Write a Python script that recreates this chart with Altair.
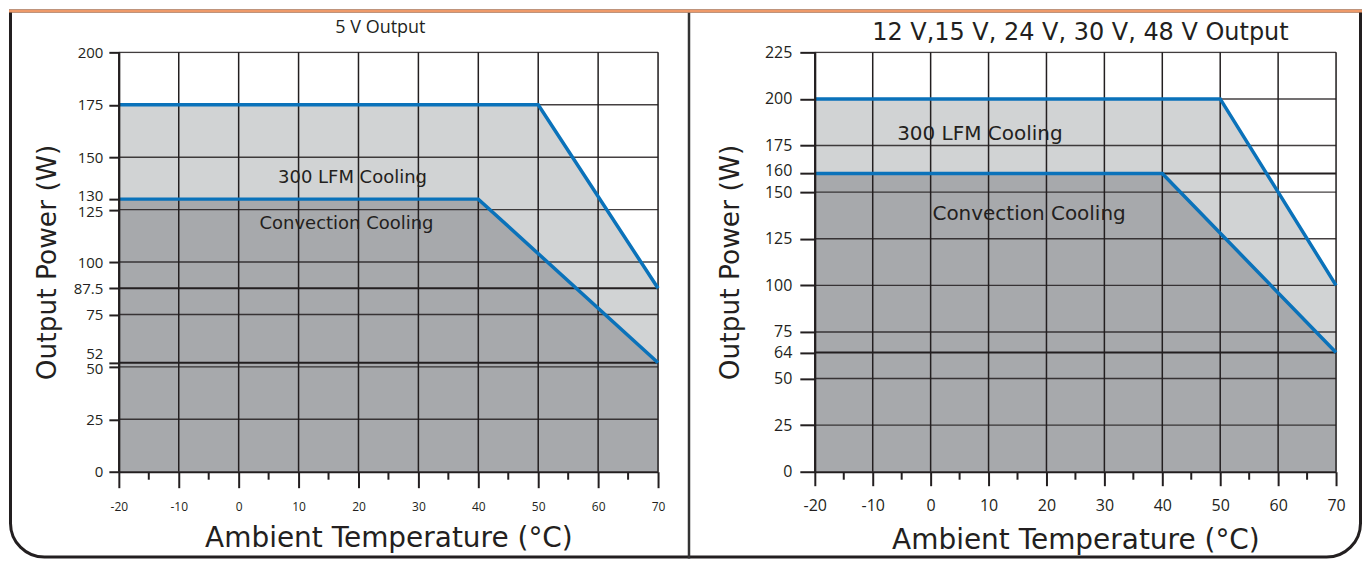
import altair as alt
import pandas as pd

# ---------------- data ----------------
titles = ["5 V Output", "12 V,15 V, 24 V, 30 V, 48 V Output"]

# Left panel: 5 V output
temp_300lfm_5v = [-20, 50, 70]
power_300lfm_5v = [175, 175, 87.5]
temp_conv_5v = [-20, 40, 70]
power_conv_5v = [130, 130, 52]
yticks_5v = [0, 25, 50, 52, 75, 87.5, 100, 125, 130, 150, 175, 200]
hgrid_5v = [25, 50, 75, 100, 125, 150, 175, 200]
marked_5v = [52, 87.5]
labels_5v = ["300 LFM Cooling", "Convection Cooling"]
label_temp_5v = [19, 18]
label_power_5v = [140, 118]

# Right panel: 12 V .. 48 V output
temp_300lfm_hv = [-20, 50, 70]
power_300lfm_hv = [200, 200, 100]
temp_conv_hv = [-20, 40, 70]
power_conv_hv = [160, 160, 64]
yticks_hv = [0, 25, 50, 64, 75, 100, 125, 150, 160, 175, 200, 225]
hgrid_hv = [25, 50, 75, 100, 125, 150, 175, 200, 225]
marked_hv = [64, 160]
labels_hv = ["300 LFM Cooling", "Convection Cooling"]
label_temp_hv = [8.5, 17]
label_power_hv = [181, 138]

xticks = [-20, -10, 0, 10, 20, 30, 40, 50, 60, 70]
xminor = [-15, -5, 5, 15, 25, 35, 45, 55, 65]

LIGHT = "#D1D3D4"
DARK = "#A7A9AC"
BLUE = "#0A72BA"
INK = "#231F20"
H = 420


def panel(tp_up, pw_up, tp_lo, pw_lo, yticks, ymax, hgrid, marked,
          labels, ltemp, lpow, s):
    xs = alt.Scale(domain=[-20, 70], nice=False, zero=False)
    ys = alt.Scale(domain=[0, ymax], nice=False, zero=False)
    xax = alt.Axis(values=xticks, title="Ambient Temperature (°C)", grid=False,
                   labelExpr="'' + datum.value",
                   tickSize=s["xtick"], tickWidth=2, tickColor=INK,
                   domainColor=INK, domainWidth=2, labelFont="Open Sans",
                   labelFontSize=s["xlab"], labelColor=INK, labelPadding=s["xlabpad"],
                   labelFlush=False, labelOverlap=False,
                   titleFont="DejaVu Sans", titleFontSize=28, titleFontWeight="normal",
                   titleColor=INK, titlePadding=s["xtitlepad"], zindex=1)
    yax = alt.Axis(values=yticks, title="Output Power (W)", grid=False,
                   labelExpr="'' + datum.value",
                   labelOffset=alt.ExprRef(s["yoffset"]),
                   tickSize=s["ytick"], tickWidth=2, tickColor=INK,
                   domainColor=INK, domainWidth=2, labelFont="Open Sans",
                   labelFontSize=s["ylab"], labelColor=INK, labelPadding=s["ylabpad"],
                   labelFlush=False, labelOverlap=False,
                   titleFont="DejaVu Sans", titleFontSize=26.5, titleFontWeight="normal",
                   titleColor=INK, titlePadding=s["ytitlepad"], zindex=1)

    def X():
        return alt.X("t:Q", scale=xs, axis=xax)

    def Y():
        return alt.Y("p:Q", scale=ys, axis=yax)

    up = pd.DataFrame({"t": tp_up, "p": pw_up})
    lo = pd.DataFrame({"t": tp_lo, "p": pw_lo})

    area_up = alt.Chart(up).mark_area(color=LIGHT, opacity=1).encode(x=X(), y=Y())
    area_lo = alt.Chart(lo).mark_area(color=DARK, opacity=1).encode(x=X(), y=Y())
    vgrid = alt.Chart(pd.DataFrame({"t": xticks})).mark_rule(
        color=INK, strokeWidth=1.5).encode(x=X())
    hg = alt.Chart(pd.DataFrame({"p": hgrid})).mark_rule(
        color=INK, strokeWidth=1.4, opacity=0.85).encode(y=Y())
    mk = alt.Chart(pd.DataFrame({"p": marked})).mark_rule(
        color=INK, strokeWidth=2).encode(y=Y())
    minor = alt.Chart(pd.DataFrame({"t": xminor})).mark_rule(
        color=INK, strokeWidth=2).encode(x=X(), y=alt.value(H + 1), y2=alt.value(H + 8))
    line_up = alt.Chart(up).mark_line(color=BLUE, strokeWidth=3.5).encode(x=X(), y=Y())
    line_lo = alt.Chart(lo).mark_line(color=BLUE, strokeWidth=3.5).encode(x=X(), y=Y())
    txt = alt.Chart(pd.DataFrame({"t": ltemp, "p": lpow, "label": labels})).mark_text(
        font="DejaVu Sans", fontSize=s["ann"], color=INK, align="center",
        baseline="middle").encode(x=X(), y=Y(), text="label:N")
    ttl = alt.Chart(pd.DataFrame({"title": [s["title"]]})).mark_text(
        font=s["tfont"], fontSize=s["tsize"], color=INK, align="center",
        baseline="alphabetic").encode(
        x=alt.value(s["tx"]), y=alt.value(s["ty"]), text="title:N")

    return [area_up, area_lo, vgrid, hg, mk, minor, line_up, line_lo, txt, ttl]


s_left = dict(xtick=16, xlab=12, xlabpad=14, xtitlepad=12, ytick=10, ylab=15,
              ylabpad=6, ytitlepad=12, ann=18,
              yoffset="datum.value == 52 ? -9 : (datum.value == 130 ? -4 : (datum.value == 125 ? 2 : (datum.value == 50 ? 2 : 0)))",
              title=titles[0], tfont="Open Sans", tsize=18, tx=262, ty=-19)
s_right = dict(xtick=14, xlab=16, xlabpad=12, xtitlepad=13, ytick=15, ylab=16,
               ylabpad=8, ytitlepad=20, ann=20,
               yoffset="datum.value == 160 ? -3 : 0",
               title=titles[1], tfont="DejaVu Sans", tsize=24, tx=266, ty=-12)

left_layers = panel(temp_300lfm_5v, power_300lfm_5v, temp_conv_5v,
                    power_conv_5v, yticks_5v, 200, hgrid_5v, marked_5v,
                    labels_5v, label_temp_5v, label_power_5v, s_left)
right_layers = panel(temp_300lfm_hv, power_300lfm_hv, temp_conv_hv,
                     power_conv_hv, yticks_hv, 225, hgrid_hv, marked_hv,
                     labels_hv, label_temp_hv, label_power_hv, s_right)

# decorative frame (pixel offsets relative to the left plot area)
one = alt.InlineData(values=[{"a": 1}])
frame = alt.Chart(one).mark_rect(
    fillOpacity=0, stroke=INK, strokeWidth=3,
    cornerRadiusBottomLeft=34, cornerRadiusBottomRight=34).encode(
    x=alt.value(-108.5), x2=alt.value(1243.5), y=alt.value(-41.5), y2=alt.value(505.5))
band = alt.Chart(one).mark_rect(color="#EE9A6A").encode(
    x=alt.value(-110), x2=alt.value(1245), y=alt.value(-43), y2=alt.value(-40))
divider = alt.Chart(one).mark_rule(color="#333333", strokeWidth=2.5).encode(
    x=alt.value(571), y=alt.value(-40), y2=alt.value(507))

left = alt.layer(frame, divider, band, *left_layers).properties(width=540, height=H)
right = alt.layer(*right_layers).properties(width=522, height=H)

chart = alt.hconcat(left, right, spacing=157, bounds="flush", padding=0).configure_view(
    strokeWidth=0).configure(background="white")

chart.save("out.html", embed_options={"renderer": "svg", "actions": False})
